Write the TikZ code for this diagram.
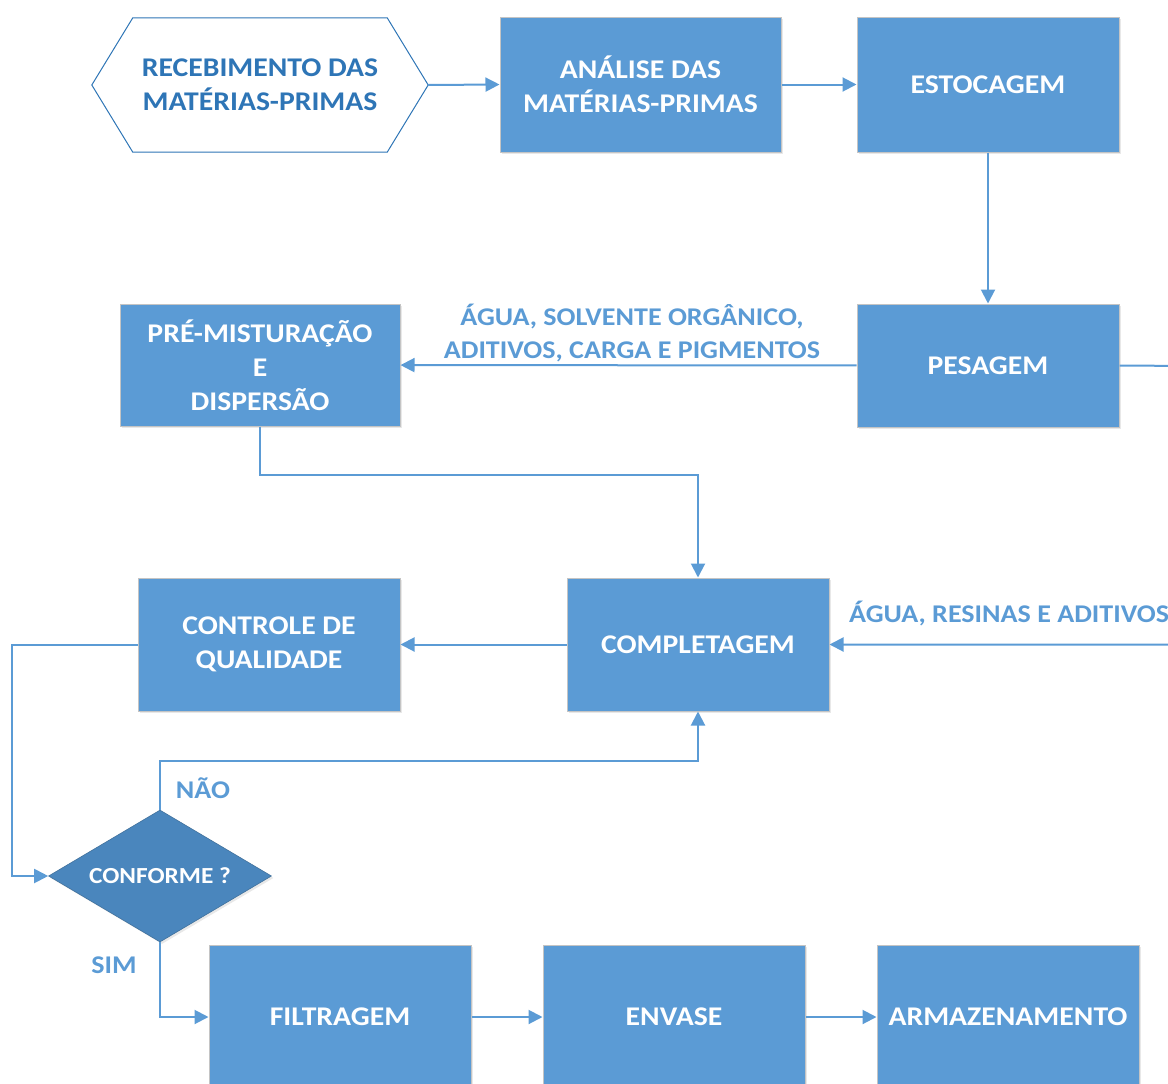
\documentclass[tikz,border=0pt]{standalone}
\usepackage{fontspec}
\setmainfont{Carlito}[FakeStretch=1.1]
\usetikzlibrary{arrows.meta,shapes.geometric,shadows}
\definecolor{boxblue}{HTML}{5B9BD5}
\definecolor{darkblue}{HTML}{2E75B6}
\definecolor{diablue}{HTML}{4A86BD}
\definecolor{diaedge}{HTML}{41719C}
\definecolor{boxedge}{HTML}{C4C4C4}
\begin{document}
\begin{tikzpicture}[x=1pt,y=-1pt,
  proc/.style={rectangle, fill=boxblue, draw=boxedge, line width=1pt, text=white,
    font=\bfseries\fontsize{27}{34}\selectfont, align=center, inner sep=0pt,
    drop shadow={shadow xshift=2pt, shadow yshift=-2pt, opacity=0.18, fill=gray}},
  conn/.style={draw=boxblue, line width=2pt, -{Triangle[length=14pt,width=14pt]}},
  lbl/.style={text=boxblue, font=\bfseries\fontsize{25.5}{33}\selectfont, align=center, inner sep=0pt}]
\useasboundingbox (0,0) rectangle (1168,1084);
\clip (0,0) rectangle (1168,1084);
% nodes
\node[inner sep=0pt, minimum width=336pt, minimum height=134pt, text=darkblue,
  font=\bfseries\fontsize{27}{34}\selectfont, align=center] (hex) at (260,85) {RECEBIMENTO DAS\\MATÉRIAS-PRIMAS};
\draw[darkblue, line width=1pt] (hex.west) -- ([xshift=41pt]hex.north west) -- ([xshift=-41pt]hex.north east)
  -- (hex.east) -- ([xshift=-41pt]hex.south east) -- ([xshift=41pt]hex.south west) -- cycle;
\node[proc, minimum width=281pt, minimum height=135pt] (ana) at (640.5,84.5) {ANÁLISE DAS\\MATÉRIAS-PRIMAS};
\node[proc, minimum width=262pt, minimum height=135pt] (est) at (988,84.5) {ESTOCAGEM};
\node[proc, minimum width=262pt, minimum height=123pt] (pes) at (988,365.5) {PESAGEM};
\node[proc, minimum width=280pt, minimum height=122pt] (pre) at (260,365) {PRÉ-MISTURAÇÃO\\E\\DISPERSÃO};
\node[proc, minimum width=262pt, minimum height=133pt] (comp) at (698,644.5) {COMPLETAGEM};
\node[proc, minimum width=262pt, minimum height=133pt] (ctrl) at (269,644.5) {CONTROLE DE\\QUALIDADE};
\node[diamond, aspect=1.69, fill=diablue, draw=diaedge, line width=0.6pt, inner sep=0pt,
  minimum width=223pt, minimum height=132pt, text=white, font=\bfseries\fontsize{23}{27}\selectfont,
  drop shadow={shadow xshift=2pt, shadow yshift=-2pt, opacity=0.18, fill=gray}] (dia) at (160,876) {CONFORME ?};
\node[proc, minimum width=262pt, minimum height=144pt] (filt) at (340,1017) {FILTRAGEM};
\node[proc, minimum width=262pt, minimum height=144pt] (env) at (674,1017) {ENVASE};
\node[proc, minimum width=262pt, minimum height=144pt] (arm) at (1008,1017) {ARMAZENAMENTO};
% labels
\node[lbl] (l1) at (632,333) {ÁGUA, SOLVENTE ORGÂNICO,\\ADITIVOS, CARGA E PIGMENTOS};
\node[lbl, anchor=west] (l2) at (849,614) {ÁGUA, RESINAS E ADITIVOS};
\node[lbl] (nao) at (203,788) {NÃO};
\node[lbl] (sim) at (114,965) {SIM};
% connectors
\coordinate (rt) at (1190,366);
\draw[conn] (hex.east) -- (ana.west);
\draw[conn] (ana) -- (est);
\draw[conn] (est) -- (pes);
\draw[conn] (pes) -- (pre);
\draw[conn] (pes.east) -- (rt) |- (comp.east);
\draw[conn] (pre.south) -- ++(0,48) -| (comp.north);
\draw[conn] (comp) -- (ctrl);
\draw[conn] (ctrl.west) -- ++(-126,0) |- (dia.west);
\draw[conn] (dia.north) -- ++(0,-49) -| (comp.south);
\draw[conn] (dia.south) |- (filt.west);
\draw[conn] (filt) -- (env);
\draw[conn] (env) -- (arm);
\end{tikzpicture}
\end{document}
